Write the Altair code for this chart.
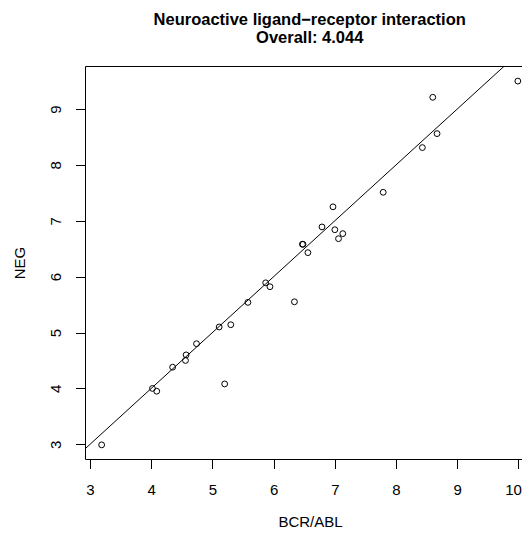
import altair as alt
import pandas as pd

# Data (x = BCR/ABL, y = NEG)
bcr_abl = [9.99, 8.60, 8.67, 8.43, 7.79, 6.97, 6.79, 7.00, 7.13, 7.06, 6.47, 6.48, 6.56,
           5.87, 5.94, 6.34, 5.58, 5.11, 5.30, 4.74, 4.57, 4.56, 4.35, 5.20, 4.02, 4.09, 3.19]
neg = [9.50, 9.21, 8.56, 8.31, 7.51, 7.25, 6.89, 6.84, 6.77, 6.68, 6.58, 6.58, 6.43,
       5.89, 5.82, 5.55, 5.54, 5.10, 5.14, 4.80, 4.60, 4.50, 4.38, 4.08, 4.00, 3.95, 2.99]

x_ticks = [3, 4, 5, 6, 7, 8, 9, 10]
y_ticks = [3, 4, 5, 6, 7, 8, 9]
x_domain = [2.918, 10.058]
y_domain = [2.737, 9.770]

title_lines = ["Neuroactive ligand\u2212receptor interaction", "Overall: 4.044"]
x_title = "BCR/ABL"
y_title = "NEG"

FONT = "Liberation Sans"
W, H = 437, 393

points = pd.DataFrame({"x": bcr_abl, "y": neg})
lo = min(x_domain[0], y_domain[0])
hi = max(x_domain[1], y_domain[1])
abline = pd.DataFrame({"x": [lo, hi], "y": [lo, hi]})

x_scale = alt.Scale(domain=x_domain, nice=False, zero=False)
y_scale = alt.Scale(domain=y_domain, nice=False, zero=False)

x_axis = alt.Axis(
    orient="bottom", values=x_ticks, format="d", grid=False, domain=True, domainColor="black",
    tickSize=9.5, tickColor="black", tickWidth=1,
    labelFont=FONT, labelFontSize=15, labelColor="black", labelBaseline="alphabetic",
    labelPadding=25.8, labelFlush=4, labelFlushOffset=3, labelOverlap=False,
    title=x_title, titleFont=FONT, titleFontSize=15, titleFontWeight="normal",
    titleColor="black", titleBaseline="alphabetic", titleAlign="center",
    titleX=225, titleY=67,
)
y_axis = alt.Axis(
    orient="left", values=y_ticks, format="d", grid=False, domain=True, domainColor="black",
    tickSize=9.5, tickColor="black", tickWidth=1,
    labelFont=FONT, labelFontSize=15, labelColor="black", labelAngle=270,
    labelAlign="center", labelBaseline="alphabetic", labelPadding=14.8,
    labelFlush=False, labelOverlap=False,
    title=y_title, titleFont=FONT, titleFontSize=15, titleFontWeight="normal",
    titleColor="black", titleAngle=270, titleBaseline="alphabetic", titleAlign="center",
    titleX=-61, titleY=H / 2,
)
top_axis = alt.Axis(orient="top", grid=False, domain=True, domainColor="black",
                    ticks=False, labels=False, title=None)

pts = alt.Chart(points).mark_point(
    shape="circle", filled=False, size=34, strokeWidth=1, color="black", opacity=1
).encode(
    x=alt.X("x:Q", scale=x_scale, axis=x_axis),
    y=alt.Y("y:Q", scale=y_scale, axis=y_axis),
)

line = alt.Chart(abline).mark_line(color="black", strokeWidth=1, clip=True).encode(
    x=alt.X("x:Q", scale=x_scale, axis=top_axis),
    y=alt.Y("y:Q", scale=y_scale),
)

chart = alt.layer(pts, line).resolve_axis(x="independent").properties(
    width=W, height=H,
    autosize=alt.AutoSizeParams(type="none"),
    padding={"left": 77, "top": 58, "right": 0, "bottom": 70},
    background="white",
    title=alt.TitleParams(
        text=title_lines, font=FONT, fontSize=16.5, fontWeight="bold", color="black",
        anchor="middle", baseline="bottom", offset=3.5, dx=6.2, lineHeight=18.5,
    ),
).configure_view(stroke=None)

chart.save("out.html", embed_options={"renderer": "svg", "actions": False})
